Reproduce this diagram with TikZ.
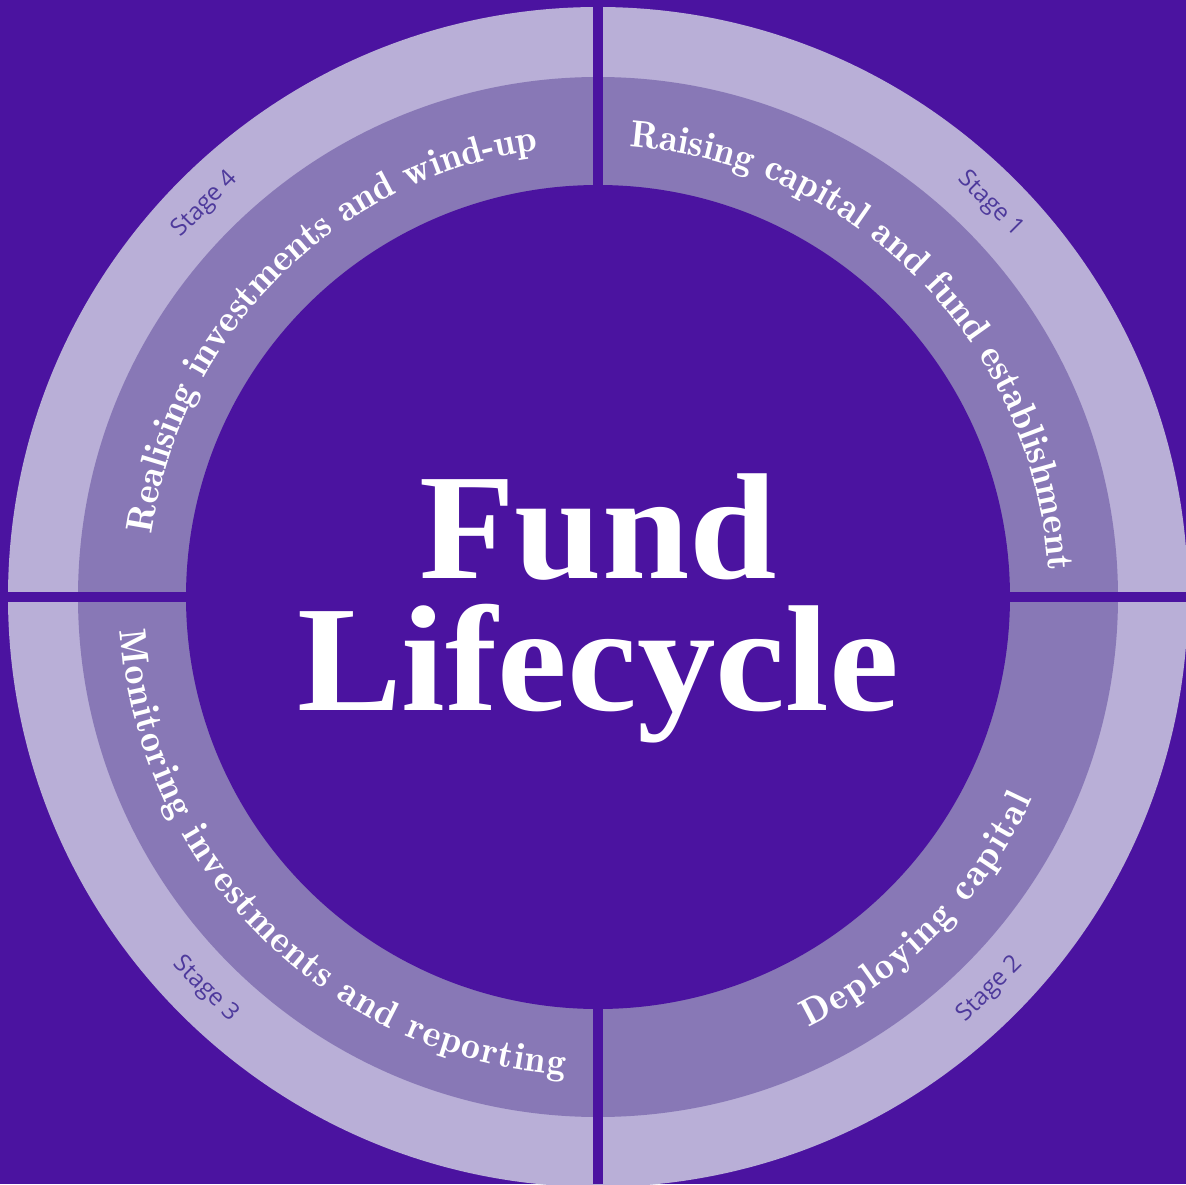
\documentclass[tikz,border=0pt]{standalone}
\usepackage{fontspec}
\newfontfamily\stagefont{Open Sans}
\newfontfamily\titlefont{Liberation Serif}
\usetikzlibrary{decorations.text}
\definecolor{bgpurple}{HTML}{4B13A0}
\definecolor{ringlight}{HTML}{B9AFD7}
\definecolor{ringmid}{HTML}{8878B6}
\definecolor{stagecol}{HTML}{4E3A9C}
\newcommand\arcfont{\fontfamily{lmr}\fontseries{b}\fontsize{38}{42}\selectfont\color{white}}
\tikzset{
  stagelbl/.style={font=\stagefont\fontsize{24}{28}\selectfont, text=stagecol, inner sep=0pt},
  titlelbl/.style={font=\titlefont\bfseries\fontsize{151}{155}\selectfont, text=white, inner sep=0pt, anchor=base, xscale=1.04},
  arctext/.style={decorate, decoration={text along path, text align=fit to path, text={|\arcfont|#1}}}
}
\begin{document}
\begin{tikzpicture}[x=1pt,y=1pt]
\fill[bgpurple] (-598,-587) rectangle (588,597);
\useasboundingbox (-598,-587) rectangle (588,597);
\fill[ringlight] (0,0) circle[radius=590];
\fill[ringmid] (0,0) circle[radius=520];
\fill[bgpurple] (0,0) circle[radius=412];
\draw[bgpurple, line width=9.5pt] (0,-587) -- (0,597);
\draw[bgpurple, line width=9.5pt] (-598,0) -- (588,0);
% arc texts
\path[arctext={Raising capital and fund establishment}] (86:451) arc[start angle=86, end angle=4, radius=451];
\path[arctext={Realising investments and wind-up}] (172:451) arc[start angle=172, end angle=98, radius=451];
\path[arctext={Deploying capital}] (-64:479) arc[start angle=-64, end angle=-25, radius=479];
\path[arctext={Monitoring investments and reporting}] (184:479) arc[start angle=184, end angle=266, radius=479];
% stage labels
\node[stagelbl, rotate=-45] (s1) at (45:555) {Stage 1};
\node[stagelbl, rotate=45] (s2) at (-45:555) {Stage 2};
\node[stagelbl, rotate=-45] (s3) at (225:555) {Stage 3};
\node[stagelbl, rotate=45] (s4) at (135:555) {Stage 4};
% title
\node[titlelbl] (fund) at (0,19) {Fund};
\node[titlelbl] (life) at (0,-113) {Lifecycle};
\end{tikzpicture}
\end{document}
